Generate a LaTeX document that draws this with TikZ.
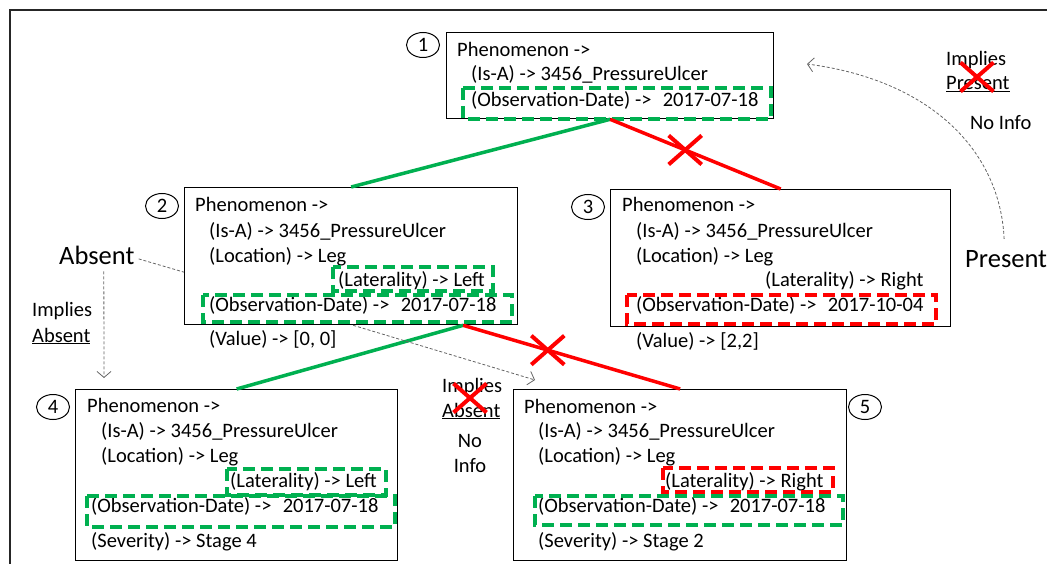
\documentclass[tikz,border=0pt]{standalone}
\usepackage{fontspec}
\setmainfont{Carlito}
\usetikzlibrary{arrows.meta, positioning, shapes.geometric, shapes.misc}
\definecolor{match}{RGB}{0,176,80}
\definecolor{clash}{RGB}{255,0,0}
\definecolor{hintgray}{RGB}{100,100,100}
\newcommand{\bodyfont}{\fontsize{20.5}{25}\selectfont}
\newcommand{\bigfont}{\fontsize{26.5}{30}\selectfont}

\begin{document}
\begin{tikzpicture}[
        x=1pt, y=-1pt,
        card/.style={rectangle, draw, line width=1.3pt, anchor=north west, inner sep=0pt},
        entry/.style={anchor=base west, inner sep=0pt, font=\bodyfont},
        tag/.style={ellipse, draw, line width=1pt, minimum width=33pt, minimum height=25pt,
                    inner sep=0pt, font=\bodyfont},
        matchline/.style={match, line width=3.5pt},
        clashline/.style={clash, line width=3.5pt},
        matchbox/.style={match, line width=3.5pt, dash pattern=on 12pt off 6pt},
        clashbox/.style={clash, line width=3.5pt, dash pattern=on 12pt off 6pt},
        nogo/.style={cross out, draw=clash, line width=4pt, minimum width=29pt,
                     minimum height=25pt, inner sep=0pt},
        hint/.style={hintgray, line width=0.8pt, dash pattern=on 3pt off 2pt},
        hintarrow/.style={hint, -{Straight Barb[length=6pt, width=14pt, line width=0.8pt]}},
    ]
    \useasboundingbox (0,0) rectangle (1047,564);
    \draw[line width=1.5pt, black!85] (10,564) -- (10,10) -- (1047,10);

    % the five phenomena
    \node[card, minimum width=327pt, minimum height=86pt] (p1) at (446,32) {};
    \node[card, minimum width=333pt, minimum height=137pt] (p2) at (184,187) {};
    \node[card, minimum width=340pt, minimum height=137pt] (p3) at (610,189) {};
    \node[card, minimum width=322pt, minimum height=171pt] (p4) at (75,389) {};
    \node[card, minimum width=333pt, minimum height=171pt] (p5) at (513,389) {};

    \node[tag] (n1) at (423,45) {1};
    \node[tag] (n2) at (162,206) {2};
    \node[tag] (n3) at (588,207) {3};
    \node[tag] (n4) at (53,407) {4};
    \node[tag] (n5) at (865,407) {5};

    % box 1
    \node[entry] (p1a) at (457,57) {Phenomenon ->};
    \node[entry] (p1b) at (471,81) {(Is-A) -> 3456\_PressureUlcer};
    \node[entry] (p1c) at (471,107) {(Observation-Date) ->\hspace{0.55em}2017-07-18};
    \draw[matchbox] (463,88) rectangle (771,119);

    % box 2
    \node[entry] (p2a) at (195,212) {Phenomenon ->};
    \node[entry] (p2b) at (209,237) {(Is-A) -> 3456\_PressureUlcer};
    \node[entry] (p2c) at (209,262) {(Location) -> Leg};
    \node[entry] (p2d) at (338,287) {(Laterality) -> Left};
    \node[entry] (p2e) at (209,311) {(Observation-Date) ->\hspace{0.55em}2017-07-18};
    \node[entry] (p2f) at (209,345) {(Value) -> [0, 0]};
    \draw[matchbox] (333,267) rectangle (493,291);
    \draw[matchbox] (203,295) rectangle (512,322);

    % box 3
    \node[entry] (p3a) at (622,212) {Phenomenon ->};
    \node[entry] (p3b) at (636,237) {(Is-A) -> 3456\_PressureUlcer};
    \node[entry] (p3c) at (636,262) {(Location) -> Leg};
    \node[entry] (p3d) at (765,287) {(Laterality) -> Right};
    \node[entry] (p3e) at (636,311) {(Observation-Date) ->\hspace{0.55em}2017-10-04};
    \node[entry] (p3f) at (636,347) {(Value) -> [2,2]};
    \draw[clashbox] (627,295) rectangle (936,324);

    % box 4
    \node[entry] (p4a) at (87,412) {Phenomenon ->};
    \node[entry] (p4b) at (101,437) {(Is-A) -> 3456\_PressureUlcer};
    \node[entry] (p4c) at (101,462) {(Location) -> Leg};
    \node[entry] (p4d) at (230,487) {(Laterality) -> Left};
    \node[entry] (p4e) at (91,512) {(Observation-Date) ->\hspace{0.55em}2017-07-18};
    \node[entry] (p4f) at (91,547) {(Severity) -> Stage 4};
    \draw[matchbox] (227,469) rectangle (386,495);
    \draw[matchbox] (87,496) rectangle (395,527);

    % box 5
    \node[entry] (p5a) at (524,413) {Phenomenon ->};
    \node[entry] (p5b) at (538,437) {(Is-A) -> 3456\_PressureUlcer};
    \node[entry] (p5c) at (538,462) {(Location) -> Leg};
    \node[entry] (p5d) at (665,487) {(Laterality) -> Right};
    \node[entry] (p5e) at (538,512) {(Observation-Date) ->\hspace{0.55em}2017-07-18};
    \node[entry] (p5f) at (538,547) {(Severity) -> Stage 2};
    \draw[clashbox] (663,468) rectangle (833,492);
    \draw[matchbox] (535,496) rectangle (843,525);

    % matches and clashes
    \draw[matchline] (p1.south) -- (p2.north);
    \draw[clashline] (p1.south) -- (p3.north) node[nogo, pos=0.44] (x13) {};
    \draw[matchline] ([xshift=112pt]p2.south) -- (p4.north);
    \draw[clashline] ([xshift=112pt]p2.south) -- (p5.north) node[nogo, pos=0.39] (x25) {};

    % side notes
    \node[entry, font=\bigfont] (absent) at (59,265) {Absent};
    \node[entry, font=\bigfont] (present) at (965,268) {Present};
    \node[entry] (imp1) at (32,316) {Implies};
    \node[entry] (abs1) at (32,342) {\underline{Absent}};
    \node[entry] (imp2) at (442,392) {Implies};
    \node[entry] (abs2) at (442,417) {\underline{Absent}};
    \node[entry, anchor=base] (no2) at (470,447) {No};
    \node[entry, anchor=base] (info2) at (470,472) {Info};
    \node[entry] (imp3) at (946,66) {Implies};
    \node[entry] (pre3) at (946,90) {\underline{Present}};
    \node[entry] (info3) at (970,130) {No Info};
    \node[nogo] (x2) at (470,398) {};
    \node[nogo] (x3) at (977,77) {};

    \coordinate (downend) at (104,378);
    \coordinate (midend) at (535,380);
    \coordinate (topend) at (807,64);
    \draw[hint] ([xshift=4pt,yshift=-3pt]absent.east) -- ([yshift=-16pt]p2.west);
    \draw[hintarrow] ([xshift=7pt,yshift=-6pt]absent.south) -- (downend);
    \draw[hintarrow] ([xshift=2pt]p2.south) -- (midend);
    \draw[hintarrow] ([xshift=-2pt,yshift=12pt]present.north)
        .. controls (1000,150) and (930,80) .. (topend);
\end{tikzpicture}
\end{document}
